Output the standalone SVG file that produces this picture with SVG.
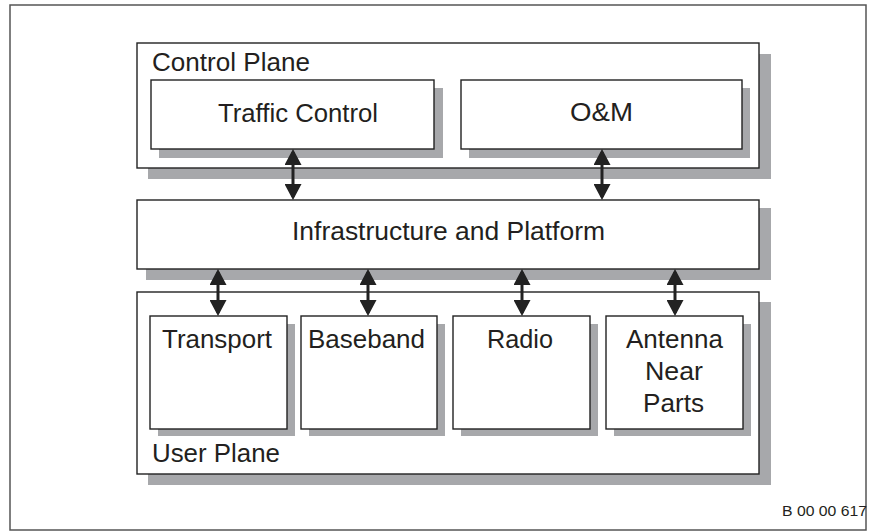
<svg xmlns="http://www.w3.org/2000/svg" width="875" height="532" viewBox="0 0 875 532">
<style>
.frame{fill:none;stroke:#555;stroke-width:1.5}
.box{fill:#fff;stroke:#222;stroke-width:1.4}
.shadow{fill:#a7a8ab}
.t{font-family:"Liberation Sans",Arial,sans-serif;font-size:25.5px;fill:#231f20}
.ref{font-family:"Liberation Sans",Arial,sans-serif;font-size:14.5px;fill:#231f20}
.conn{stroke:#222;stroke-width:3;fill:none}
</style>
<defs>
<marker id="ah" markerUnits="userSpaceOnUse" markerWidth="16" markerHeight="17" refX="13" refY="8.5" orient="auto-start-reverse" viewBox="0 0 16 17">
<path d="M0,0 L16,8.5 L0,17 z" fill="#222"/>
</marker>
</defs>
<rect class="frame" x="10" y="5" width="856" height="525"/>

<g id="control-plane">
<rect class="shadow" x="148" y="54" width="623" height="125"/>
<rect class="box" x="137" y="43" width="622" height="125"/>
<text class="t" x="152" y="71" textLength="158" lengthAdjust="spacingAndGlyphs">Control Plane</text>
</g>
<g id="traffic-control">
<rect class="shadow" x="159" y="88" width="284" height="70"/>
<rect class="box" x="151" y="80" width="283" height="69"/>
<text class="t" x="218" y="122" textLength="160" lengthAdjust="spacingAndGlyphs">Traffic Control</text>
</g>
<g id="om">
<rect class="shadow" x="469" y="88" width="281" height="70"/>
<rect class="box" x="461" y="80" width="281" height="69"/>
<text class="t" x="570" y="121" textLength="63" lengthAdjust="spacingAndGlyphs">O&amp;M</text>
</g>
<g id="infrastructure">
<rect class="shadow" x="146" y="208" width="625" height="72"/>
<rect class="box" x="137" y="200" width="622" height="69"/>
<text class="t" x="292" y="240" textLength="313" lengthAdjust="spacingAndGlyphs">Infrastructure and Platform</text>
</g>
<g id="user-plane">
<rect class="shadow" x="148" y="302" width="623" height="183"/>
<rect class="box" x="137" y="292" width="622" height="182"/>
<text class="t" x="152" y="462" textLength="128" lengthAdjust="spacingAndGlyphs">User Plane</text>
</g>
<g id="transport">
<rect class="shadow" x="158" y="324" width="137" height="112"/>
<rect class="box" x="150" y="316" width="137" height="113"/>
<text class="t" x="162" y="348" textLength="110" lengthAdjust="spacingAndGlyphs">Transport</text>
</g>
<g id="baseband">
<rect class="shadow" x="309" y="324" width="136" height="112"/>
<rect class="box" x="301" y="316" width="136" height="113"/>
<text class="t" x="308" y="348" textLength="117" lengthAdjust="spacingAndGlyphs">Baseband</text>
</g>
<g id="radio">
<rect class="shadow" x="461" y="324" width="137" height="112"/>
<rect class="box" x="453" y="316" width="137" height="113"/>
<text class="t" x="487" y="348" textLength="66" lengthAdjust="spacingAndGlyphs">Radio</text>
</g>
<g id="antenna">
<rect class="shadow" x="614" y="324" width="137" height="112"/>
<rect class="box" x="606" y="316" width="137" height="113"/>
<text class="t" x="626" y="348" textLength="97" lengthAdjust="spacingAndGlyphs">Antenna</text>
<text class="t" x="645" y="380" textLength="58" lengthAdjust="spacingAndGlyphs">Near</text>
<text class="t" x="643" y="412" textLength="61" lengthAdjust="spacingAndGlyphs">Parts</text>
</g>

<g id="connectors">
<line class="conn" x1="293" y1="152" x2="293" y2="197" marker-start="url(#ah)" marker-end="url(#ah)"/>
<line class="conn" x1="602" y1="152" x2="602" y2="197" marker-start="url(#ah)" marker-end="url(#ah)"/>
<line class="conn" x1="218" y1="272" x2="218" y2="313" marker-start="url(#ah)" marker-end="url(#ah)"/>
<line class="conn" x1="368" y1="272" x2="368" y2="313" marker-start="url(#ah)" marker-end="url(#ah)"/>
<line class="conn" x1="522" y1="272" x2="522" y2="313" marker-start="url(#ah)" marker-end="url(#ah)"/>
<line class="conn" x1="675" y1="272" x2="675" y2="313" marker-start="url(#ah)" marker-end="url(#ah)"/>
</g>

<text class="ref" x="782" y="516" textLength="85" lengthAdjust="spacingAndGlyphs">B 00 00 617</text>
</svg>
